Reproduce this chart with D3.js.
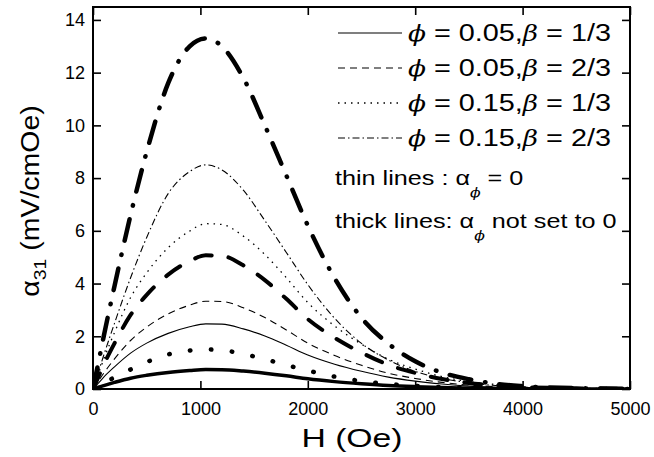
<!DOCTYPE html>
<html>
<head>
<meta charset="utf-8">
<script src="https://cdn.jsdelivr.net/npm/d3@7"></script>
<style>
  body { margin: 0; background: #fff; }
  text { font-family: "Liberation Sans", Arial, sans-serif; fill: #000; }
  .it { font-family: "DejaVu Serif", serif; font-style: italic; }
</style>
</head>
<body>
<svg id="chart" width="654" height="457"></svg>
<script>
// ** Data **
const fieldH = [0, 50, 100, 200, 350, 500, 700, 900, 1050, 1200, 1400, 1600, 1800, 2000, 2250, 2500, 2750, 3000, 3250, 3500, 3750, 4000, 4500, 5000];

// thin lines : alpha_phi = 0
const thinSolid   = [0, 0.22, 0.45, 0.84, 1.36, 1.74, 2.11, 2.36, 2.47, 2.46, 2.28, 2.01, 1.66, 1.29, 0.94, 0.67, 0.45, 0.30, 0.19, 0.11, 0.067, 0.037, 0.012, 0.005];
const thinDashed  = [0, 0.30, 0.60, 1.14, 1.84, 2.35, 2.85, 3.18, 3.33, 3.32, 3.08, 2.71, 2.24, 1.74, 1.27, 0.90, 0.60, 0.40, 0.25, 0.15, 0.09, 0.05, 0.017, 0.007];
const thinDotted  = [0, 0.57, 1.13, 2.14, 3.47, 4.41, 5.36, 5.99, 6.27, 6.24, 5.80, 5.10, 4.22, 3.28, 2.39, 1.70, 1.13, 0.76, 0.47, 0.28, 0.17, 0.09, 0.03, 0.013];
const thinDashDot = [0, 0.64, 1.28, 2.49, 4.22, 5.75, 7.41, 8.25, 8.50, 8.31, 7.54, 6.39, 5.18, 3.96, 2.68, 1.73, 1.10, 0.67, 0.40, 0.24, 0.13, 0.07, 0.02, 0.006];

// thick lines : alpha_phi not set to 0
const thickSolid   = [0, 0.067, 0.13, 0.25, 0.41, 0.52, 0.63, 0.70, 0.736, 0.733, 0.68, 0.60, 0.50, 0.385, 0.28, 0.20, 0.133, 0.089, 0.056, 0.033, 0.02, 0.011, 0.004, 0.0015];
const thickDashed  = [0, 0.46, 0.92, 1.73, 2.81, 3.57, 4.34, 4.85, 5.07, 5.05, 4.69, 4.13, 3.42, 2.65, 1.94, 1.38, 0.92, 0.61, 0.38, 0.23, 0.14, 0.077, 0.026, 0.01];
const thickDotted  = [0, 0.11, 0.23, 0.44, 0.74, 1.02, 1.31, 1.46, 1.50, 1.47, 1.33, 1.13, 0.91, 0.70, 0.47, 0.30, 0.19, 0.12, 0.07, 0.04, 0.023, 0.012, 0.003, 0.001];
const thickDashDot = [0, 1.0, 2.0, 3.9, 6.6, 9.0, 11.6, 13.0, 13.3, 13.0, 11.8, 10.0, 8.1, 6.2, 4.2, 2.7, 1.72, 1.05, 0.62, 0.37, 0.2, 0.11, 0.03, 0.01];

const legendLabels = [["0.05", "1/3"], ["0.05", "2/3"], ["0.15", "1/3"], ["0.15", "2/3"]];
const xTicks = [0, 1000, 2000, 3000, 4000, 5000];
const yTicks = [0, 2, 4, 6, 8, 10, 12, 14];

// ** Layout **
const plot = { left: 93, right: 630, top: 7, bottom: 389 };
const stretch = 1.2;   // legend text in the figure is drawn wide

// line styles
const series = [
  { vals: thinSolid,    w: 1.1, dash: null,            cap: "butt" },
  { vals: thinDashed,   w: 1.1, dash: "7,5",           cap: "butt" },
  { vals: thinDotted,   w: 1.3, dash: "1.5,5",         cap: "butt" },
  { vals: thinDashDot,  w: 1.1, dash: "7,3,1.5,3",     cap: "butt" },
  { vals: thickSolid,   w: 3.5, dash: null,            cap: "butt" },
  { vals: thickDashed,  w: 4,   dash: "17,17",         cap: "round" },
  { vals: thickDotted,  w: 4.5, dash: "0.5,20.5",      cap: "round" },
  { vals: thickDashDot, w: 4.5, dash: "22,14,0.5,14",  cap: "round" }
];

let svg = d3.select("#chart");

let x = d3.scaleLinear().domain([0, 5000]).range([plot.left, plot.right]);
let y = d3.scaleLinear().domain([0, 14.49]).range([plot.bottom, plot.top]);

svg.append("defs").append("clipPath").attr("id", "clip")
  .append("rect")
  .attr("x", plot.left).attr("y", plot.top)
  .attr("width", plot.right - plot.left).attr("height", plot.bottom - plot.top);

// curves
let line = d3.line()
  .x((d, i) => x(fieldH[i]))
  .y(d => y(d))
  .curve(d3.curveMonotoneX);

let curves = svg.append("g").attr("clip-path", "url(#clip)");
series.forEach(function(s) {
  curves.append("path")
    .attr("d", line(s.vals))
    .attr("fill", "none")
    .attr("stroke", "#000")
    .attr("stroke-width", s.w)
    .attr("stroke-dasharray", s.dash)
    .attr("stroke-linecap", s.cap);
});

// axes: ticks inside on all four sides
function addAxis(axisFn, scale, ticks, minor, transform, showLabels) {
  let g = svg.append("g").attr("transform", transform);
  g.call(axisFn(scale).tickValues(minor).tickSize(-4).tickFormat(""));
  g.call(axisFn(scale).tickValues(ticks).tickSize(-8).tickFormat(showLabels ? d3.format("d") : ""));
  g.selectAll(".domain").remove();
  g.selectAll("line").attr("stroke", "#000").attr("stroke-width", 1.6);
  g.selectAll("text").style("font-size", "18px").style("font-family", "Liberation Sans, Arial, sans-serif");
  return g;
}
const xMinor = d3.range(500, 5000, 1000);
const yMinor = d3.range(1, 14.5, 2);

let gx = addAxis(d3.axisBottom, x, xTicks, xMinor, `translate(0,${plot.bottom})`, true);
gx.selectAll("text").attr("dy", null).attr("y", 26);
addAxis(d3.axisTop, x, xTicks, xMinor, `translate(0,${plot.top})`, false);
let gy = addAxis(d3.axisLeft, y, yTicks, yMinor, `translate(${plot.left},0)`, true);
gy.selectAll("text").attr("x", -8);
addAxis(d3.axisRight, y, yTicks, yMinor, `translate(${plot.right},0)`, false);

// frame
svg.append("rect")
  .attr("x", plot.left).attr("y", plot.top)
  .attr("width", plot.right - plot.left).attr("height", plot.bottom - plot.top)
  .attr("fill", "none").attr("stroke", "#000").attr("stroke-width", 2);

// axis titles
svg.append("text")
  .attr("transform", "translate(352,447) scale(1.35,1)")
  .attr("text-anchor", "middle")
  .style("font-size", "25px")
  .text("H (Oe)");

let yTitle = svg.append("text")
  .attr("transform", "translate(39,201) rotate(-90) scale(1.14,1)")
  .attr("text-anchor", "middle")
  .style("font-size", "25px");
yTitle.append("tspan").text("\u03b1");
yTitle.append("tspan").attr("dy", 7).style("font-size", "17px").text("31");
yTitle.append("tspan").attr("dy", -7).text(" (mV/cmOe)");

// legend
let legend = svg.append("g");
legendLabels.forEach(function(lab, i) {
  let s = series[i];
  let yy = 33 + i * 35;
  legend.append("line")
    .attr("x1", 338).attr("x2", 402)
    .attr("y1", yy).attr("y2", yy)
    .attr("stroke", "#000")
    .attr("stroke-width", s.w)
    .attr("stroke-dasharray", s.dash);
  let t = legend.append("text")
    .attr("transform", `translate(408,${yy + 8}) scale(${stretch},1)`)
    .style("font-size", "24px");
  t.append("tspan").attr("class", "it").style("font-size", "22px").text("\u03d5");
  t.append("tspan").text(" = " + lab[0] + ",");
  t.append("tspan").attr("class", "it").style("font-size", "22px").text("\u03b2");
  t.append("tspan").text(" = " + lab[1]);
});

let note1 = legend.append("text")
  .attr("transform", `translate(335,185) scale(${stretch},1)`)
  .style("font-size", "21px");
note1.append("tspan").text("thin lines  : \u03b1");
note1.append("tspan").attr("class", "it").attr("dy", 12).style("font-size", "13px").text("\u03d5");
note1.append("tspan").attr("dy", -12).text(" = 0");

let note2 = legend.append("text")
  .attr("transform", `translate(335,228) scale(${stretch},1)`)
  .style("font-size", "21px");
note2.append("tspan").text("thick lines: \u03b1");
note2.append("tspan").attr("class", "it").attr("dy", 12).style("font-size", "13px").text("\u03d5");
note2.append("tspan").attr("dy", -12).text(" not set to 0");
</script>
</body>
</html>
